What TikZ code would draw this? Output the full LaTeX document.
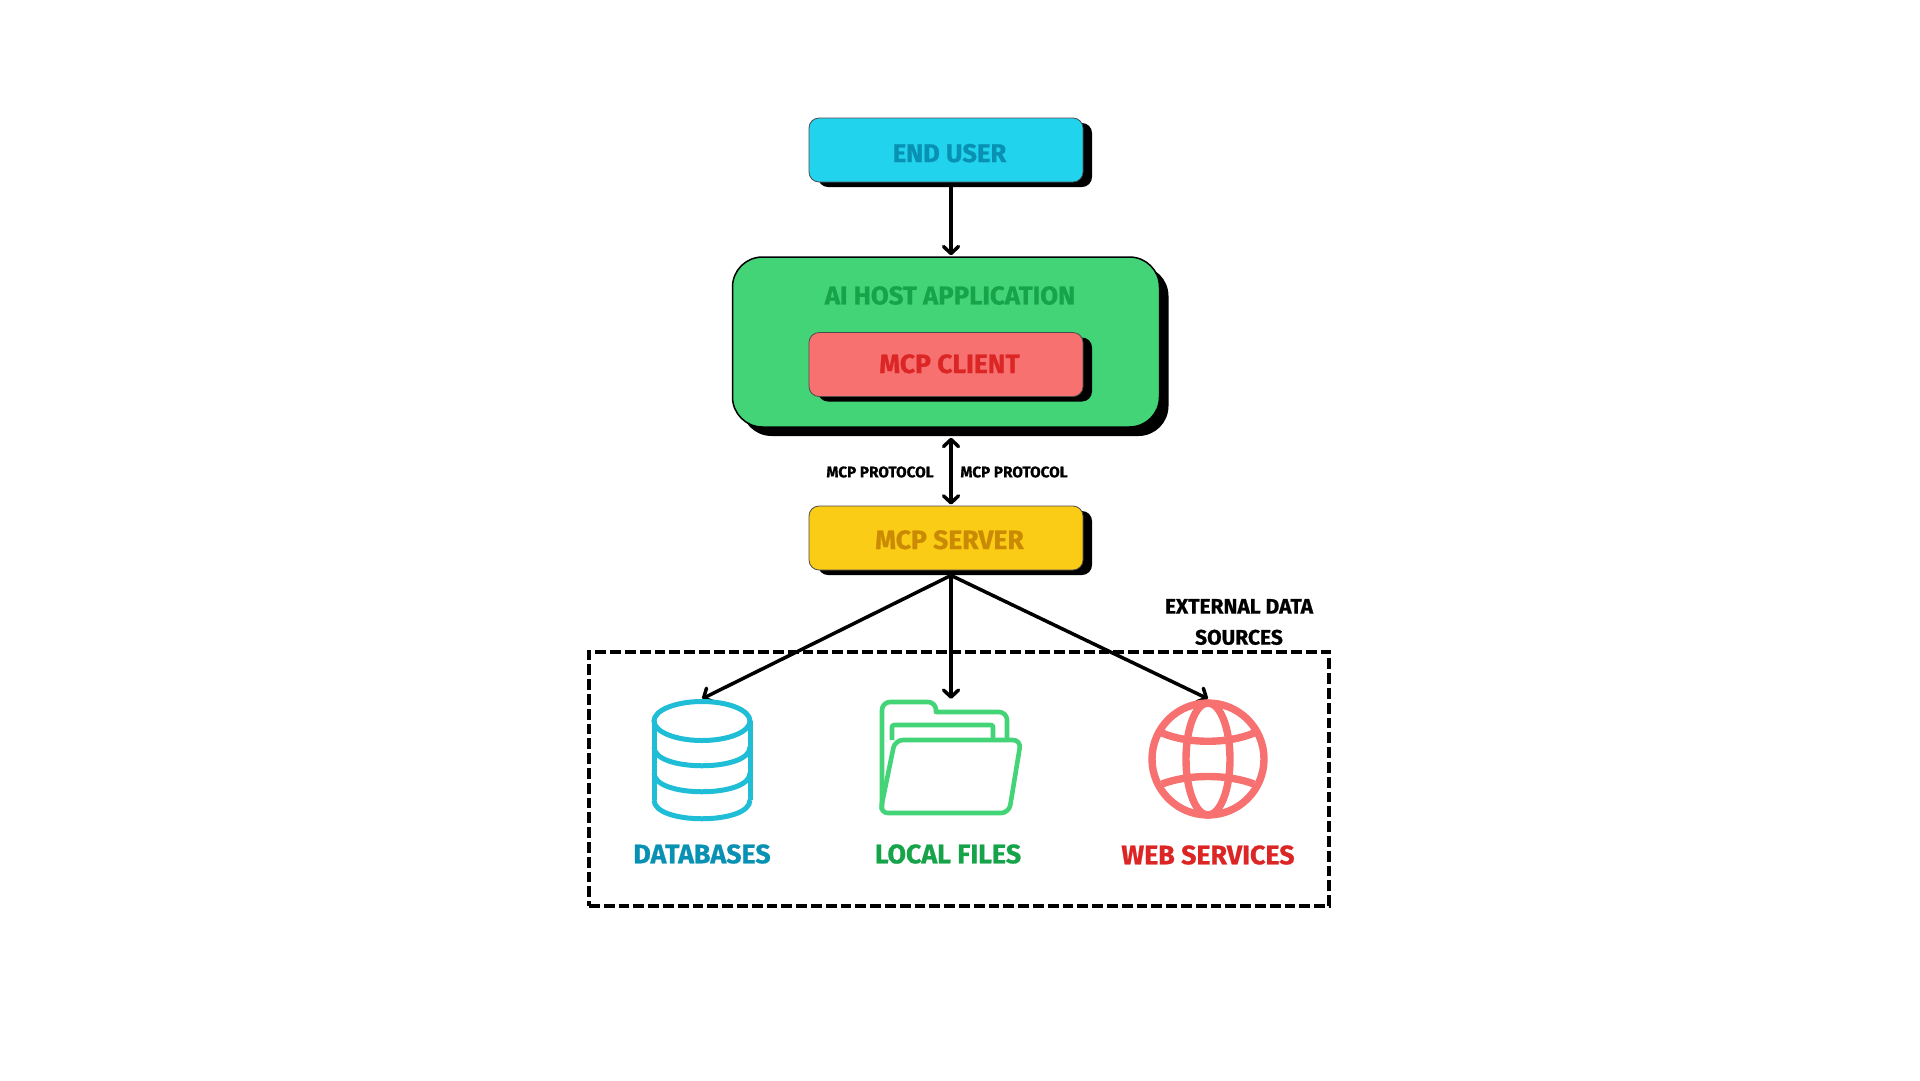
\documentclass[tikz,border=0pt]{standalone}
\usepackage{fontspec}
\setmainfont[BoldFeatures={FakeBold=0.8}]{Fira Sans}
\usetikzlibrary{shadows, arrows.meta}
\definecolor{cyanfill}{HTML}{22D3EE}
\definecolor{cyantext}{HTML}{0891B2}
\definecolor{greenfill}{HTML}{44D478}
\definecolor{greentext}{HTML}{16A34A}
\definecolor{redfill}{HTML}{F87171}
\definecolor{redtext}{HTML}{DC2626}
\definecolor{yellowfill}{HTML}{FACC15}
\definecolor{yellowtext}{HTML}{CA8A04}
\tikzstyle{shadowbox} = [rectangle, rounded corners=10pt, minimum width=274pt, minimum height=64pt, draw=black!70, line width=0.8pt, inner sep=0pt, text height=22pt, text depth=0pt, font=\fontsize{26.5}{30}\selectfont\bfseries, execute at begin node=\hspace*{7pt}, drop shadow={shadow xshift=9pt, shadow yshift=-5pt, fill=black, opacity=1}]
\tikzstyle{hostbox} = [rectangle, rounded corners=30pt, minimum width=427pt, minimum height=170pt, draw=black, line width=1.5pt, fill=greenfill, drop shadow={shadow xshift=9pt, shadow yshift=-9pt, fill=black, opacity=1}]
\tikzstyle{arrow} = [line width=3.5pt, -{Straight Barb[length=7pt,width=15pt,round]}]
\tikzstyle{twoarrow} = [line width=3.5pt, {Straight Barb[length=7pt,width=15pt,round]}-{Straight Barb[length=7pt,width=15pt,round]}]
\tikzstyle{iconspot} = [minimum width=100pt, minimum height=122pt, inner sep=0pt]
\tikzstyle{iconlabel} = [font=\fontsize{26.8}{30}\selectfont\bfseries]
\tikzstyle{blacklabel} = [font=\fontsize{21}{31}\selectfont\bfseries, align=center]
\tikzstyle{protolabel} = [font=\fontsize{15.3}{18}\selectfont\bfseries]
\begin{document}
\begin{tikzpicture}[x=1pt, y=-1pt, align=center]
      \useasboundingbox (0,0) rectangle (1920,1080);

      \node (enduser) [shadowbox, fill=cyanfill, text=cyantext, text height=24pt, font=\fontsize{25.6}{30}\selectfont\bfseries] at (946,150) {END USER};
      \node (host) [hostbox, below of=enduser, node distance=192pt] {};
      \node (client) [shadowbox, fill=redfill, text=redtext, text height=17pt, below of=host, node distance=22.5pt] {MCP CLIENT};
      \node (hosttitle) [iconlabel, text=greentext, above of=client, node distance=69pt, xshift=4pt, font=\fontsize{25.8}{30}\selectfont\bfseries] {AI HOST APPLICATION};
      \node (server) [shadowbox, fill=yellowfill, text=yellowtext, below of=host, node distance=196pt] {MCP SERVER};

      \node (protoleft) [protolabel] at (880,472) {MCP PROTOCOL};
      \node (protoright) [protolabel] at (1014,472) {MCP PROTOCOL};

      \node (sourcesbox) [draw, line width=3.5pt, dash pattern=on 10.8pt off 4pt, minimum width=740pt, minimum height=254pt] at (959,779) {};
      \node (sourcestitle) [blacklabel] at (1239,622) {EXTERNAL DATA\\SOURCES};

      \node (databases) [iconspot] at (702,760) {};
      \node (localfiles) [iconspot] at (951,760) {};
      \node (webservices) [iconspot] at (1208,760) {};

      \node (dblabel) [iconlabel, text=cyantext, below of=databases, node distance=94pt] {DATABASES};
      \node (fileslabel) [iconlabel, text=greentext, below of=localfiles, node distance=94pt, xshift=-3pt] {LOCAL FILES};
      \node (weblabel) [iconlabel, text=redtext, below of=webservices, node distance=95pt] {WEB SERVICES};

      \coordinate (hub) at ([xshift=5pt, yshift=-5pt]server.south);

      \draw [arrow] ([xshift=5pt, yshift=-5pt]enduser.south) -- ([xshift=5pt, yshift=1pt]host.north);
      \draw [twoarrow] ([xshift=5pt, yshift=-10pt]host.south) -- ([xshift=5pt, yshift=1pt]server.north);
      \draw [arrow] (hub) -- (databases.north);
      \draw [arrow] (hub) -- (localfiles.north);
      \draw [arrow] (hub) -- (webservices.north);

      % database icon
      \begin{scope}[shift={(702,760)}, draw=cyanfill!90!black, line width=5pt]
        \draw (0,-39) ellipse [x radius=48, y radius=19.5];
        \draw (-48,-39) -- (-48,40) (48,-39) -- (48,40);
        \foreach \y in {-13,13,40}
          \draw (-48,\y) .. controls (-48,\y+25) and (48,\y+25) .. (48,\y);
      \end{scope}

      % folder icon
      \begin{scope}[shift={(950,760)}, draw=greenfill, line width=4.6pt, line join=round]
        \draw [rounded corners=8pt] (-68,50) -- (-68,-58) -- (-14,-58) [sharp corners] -- (-14,-48) [rounded corners=8pt] -- (57,-48) -- (57,-20);
        \draw [rounded corners=2pt] (-58,-20) -- (-58,-35) -- (43,-35) -- (43,-20);
        \draw [rounded corners=8pt] (-55,-20) -- (71,-20) -- (59,53) -- (-70,53) -- cycle;
      \end{scope}

      % globe icon
      \begin{scope}[shift={(1208,759)}, draw=redfill, line width=7.4pt]
        \draw (0,0) circle [radius=56];
        \draw (0,0) ellipse [x radius=22, y radius=56];
        \draw (-46,-26) .. controls (-20,-15) and (20,-15) .. (46,-26);
        \draw (-46,25) .. controls (-20,15) and (20,15) .. (46,25);
      \end{scope}
    \end{tikzpicture}
\end{document}
